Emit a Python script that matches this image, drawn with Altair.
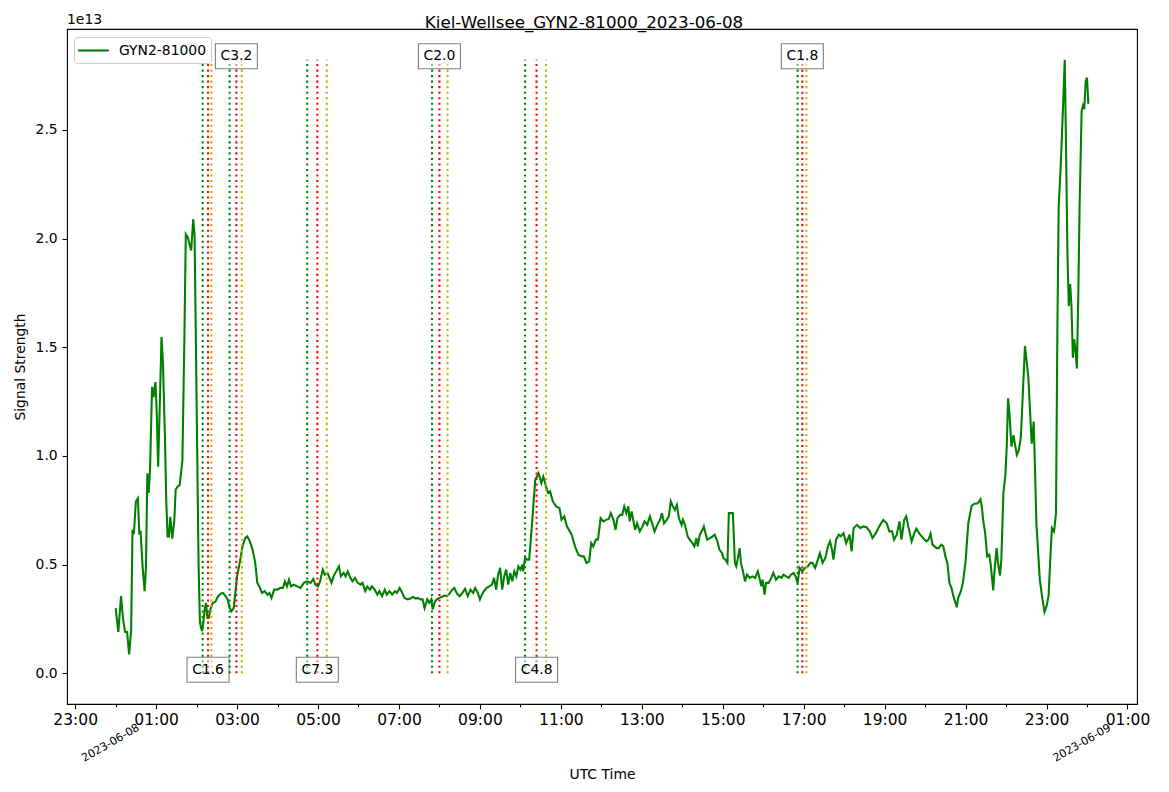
import altair as alt
import pandas as pd

# ---------------- data (minutes after 2023-06-08 00:00 UTC, signal in units of 1e13) ----------------
night_min = [0, 4, 8, 11, 14, 17, 20, 23, 25, 27, 30, 33, 35, 37, 40, 43, 45, 47, 49, 51,
             54, 56, 59, 61, 63, 65, 68, 70, 73, 75, 77, 79, 81, 84, 87, 89, 92, 95, 99, 102,
             104, 107, 109, 112, 115, 117, 120, 123, 125, 128, 130, 132, 134, 136, 138, 141, 144, 148, 152, 156,
             159, 163, 166, 169, 172, 175, 178, 180, 184, 188, 192, 195, 199, 203, 207, 210, 213, 217, 221, 225,
             228, 231, 235, 240, 244, 248, 251, 254, 257, 260, 264, 269, 274, 279]
night_val = [0.30, 0.19, 0.355, 0.25, 0.19, 0.19, 0.087, 0.20, 0.66, 0.64,
             0.79, 0.805, 0.645, 0.65, 0.49, 0.378, 0.49, 0.92, 0.83, 0.935,
             1.318, 1.27, 1.34, 1.195, 0.95, 1.18, 1.547, 1.44, 1.10, 0.80,
             0.63, 0.63, 0.72, 0.62, 0.705, 0.845, 0.86, 0.867, 0.98, 1.56,
             2.02, 2.005, 1.98, 1.945, 2.09, 2.02, 1.257, 0.49, 0.233, 0.194,
             0.233, 0.294, 0.324, 0.255, 0.255, 0.30, 0.324, 0.33, 0.355, 0.367,
             0.37, 0.355, 0.34, 0.30, 0.286, 0.30, 0.385, 0.446, 0.508, 0.584,
             0.622, 0.63, 0.607, 0.569, 0.508, 0.416, 0.40, 0.37, 0.378, 0.362,
             0.37, 0.347, 0.385, 0.385, 0.393, 0.393, 0.423, 0.40, 0.431, 0.40,
             0.408, 0.40, 0.393, 0.416]

morning_min = [284, 289, 293, 296, 300, 303, 307, 310, 314, 317, 320, 323, 327, 331, 334, 338, 341, 344, 348, 351,
               355, 359, 363, 366, 370, 373, 377, 380, 384, 388, 391, 395, 399, 402, 406, 410, 414, 417, 421, 425,
               428, 433, 437, 441, 445, 448, 452, 455, 458, 462, 465, 468, 470, 473, 476, 480, 484, 487, 491, 495,
               499, 502, 506, 510, 514, 518, 522, 526, 530, 533, 537, 540, 543, 546, 550, 554, 558, 561, 564, 567,
               570, 573, 576, 579, 582, 585, 588, 591, 594, 597, 600, 603, 604, 607, 610, 613]
morning_val = [0.423, 0.416, 0.434, 0.408, 0.40, 0.423, 0.477, 0.454, 0.462, 0.439,
               0.416, 0.446, 0.469, 0.492, 0.446, 0.462, 0.446, 0.469, 0.439, 0.423,
               0.439, 0.416, 0.408, 0.416, 0.378, 0.40, 0.385, 0.40, 0.385, 0.362,
               0.378, 0.355, 0.385, 0.362, 0.378, 0.362, 0.378, 0.37, 0.393, 0.37,
               0.347, 0.34, 0.344, 0.352, 0.344, 0.347, 0.34, 0.34, 0.30, 0.34,
               0.324, 0.34, 0.294, 0.327, 0.34, 0.347, 0.352, 0.358, 0.355, 0.367,
               0.385, 0.393, 0.367, 0.355, 0.37, 0.389, 0.355, 0.385, 0.37, 0.393,
               0.37, 0.34, 0.362, 0.378, 0.393, 0.40, 0.408, 0.439, 0.385, 0.454,
               0.485, 0.385, 0.446, 0.477, 0.408, 0.462, 0.423, 0.469, 0.446, 0.492,
               0.477, 0.50, 0.469, 0.53, 0.523, 0.523]

day_min = [617, 622, 627, 631, 634, 638, 641, 644, 648, 653, 658, 661, 665, 669, 672, 676, 681, 686, 691, 694,
           698, 702, 705, 708, 712, 715, 719, 723, 727, 731, 734, 738, 741, 744, 748, 751, 754, 757, 760, 762,
           765, 770, 773, 777, 781, 784, 788, 792, 796, 799, 803, 807, 810, 813, 817, 820, 823, 826, 829, 832,
           835, 839, 841, 844, 848, 851, 855, 858, 861, 863, 866, 870, 872, 875, 877, 881, 885, 888, 892, 895,
           899, 901, 904, 907, 909, 913, 915, 918, 920, 922, 925, 927, 930, 933, 936, 940, 944, 948, 952, 955,
           957, 959, 962, 964, 968, 972, 975, 979, 983, 987, 990, 994, 998, 1001, 1005, 1008, 1011, 1014, 1018, 1022,
           1026, 1030, 1033, 1037, 1041, 1044, 1048, 1052, 1056, 1059, 1062, 1064, 1068, 1072, 1075, 1079, 1083]
day_val = [0.676, 0.89, 0.92, 0.875, 0.905, 0.86, 0.83, 0.837, 0.791, 0.768,
           0.76, 0.706, 0.722, 0.676, 0.66, 0.638, 0.584, 0.546, 0.538, 0.538,
           0.508, 0.515, 0.599, 0.584, 0.615, 0.615, 0.714, 0.699, 0.706, 0.71,
           0.737, 0.706, 0.66, 0.714, 0.729, 0.729, 0.768, 0.737, 0.768, 0.699,
           0.745, 0.66, 0.69, 0.653, 0.676, 0.699, 0.683, 0.722, 0.683, 0.653,
           0.683, 0.706, 0.737, 0.69, 0.706, 0.722, 0.791, 0.768, 0.752, 0.775,
           0.714, 0.683, 0.706, 0.683, 0.63, 0.615, 0.599, 0.584, 0.622, 0.584,
           0.638, 0.66, 0.676, 0.638, 0.615, 0.622, 0.63, 0.638, 0.607, 0.569,
           0.553, 0.53, 0.523, 0.508, 0.737, 0.737, 0.737, 0.508, 0.492, 0.523,
           0.576, 0.508, 0.469, 0.423, 0.454, 0.439, 0.446, 0.439, 0.469, 0.431,
           0.40, 0.431, 0.362, 0.416, 0.416, 0.439, 0.462, 0.431, 0.446, 0.439,
           0.454, 0.446, 0.439, 0.454, 0.462, 0.446, 0.416, 0.485, 0.469, 0.485,
           0.492, 0.508, 0.508, 0.485, 0.523, 0.553, 0.508, 0.53, 0.584, 0.607,
           0.569, 0.523, 0.615, 0.638, 0.63, 0.645, 0.599]

evening_min = [1088, 1091, 1094, 1099, 1104, 1108, 1113, 1118, 1122, 1127, 1132, 1138, 1143, 1147, 1151, 1154, 1158, 1162, 1165, 1169,
               1172, 1175, 1180, 1184, 1187, 1191, 1195, 1199, 1202, 1205, 1208, 1211, 1214, 1217, 1220, 1224, 1227, 1230, 1233, 1236,
               1239, 1242, 1245, 1247, 1249, 1253, 1256, 1260, 1264, 1269, 1273, 1276, 1279, 1282, 1284, 1286, 1289, 1292, 1295, 1297,
               1301, 1303, 1306, 1308, 1311, 1313, 1316, 1319, 1321, 1323, 1325, 1328, 1331, 1333, 1336, 1339, 1342, 1344, 1348, 1353,
               1358, 1361, 1365, 1370, 1374, 1377, 1380, 1383, 1386, 1388, 1391, 1392, 1394, 1396, 1398, 1401, 1404, 1407, 1409, 1411,
               1413, 1415, 1417, 1419, 1421, 1423, 1425, 1427, 1429, 1432, 1434, 1436, 1438, 1440, 1442]
evening_val = [0.638, 0.561, 0.668, 0.683, 0.668, 0.676, 0.672, 0.653, 0.622, 0.645,
               0.676, 0.706, 0.69, 0.653, 0.653, 0.615, 0.638, 0.699, 0.615, 0.706,
               0.722, 0.676, 0.607, 0.645, 0.665, 0.645, 0.63, 0.615, 0.607, 0.615,
               0.642, 0.592, 0.584, 0.576, 0.576, 0.592, 0.584, 0.538, 0.508, 0.416,
               0.393, 0.355, 0.324, 0.304, 0.347, 0.378, 0.416, 0.515, 0.69, 0.771,
               0.78, 0.78, 0.786, 0.801, 0.768, 0.706, 0.645, 0.538, 0.546, 0.508,
               0.382, 0.477, 0.576, 0.508, 0.45, 0.523, 0.829, 0.913, 1.043, 1.265,
               1.195, 1.043, 1.096, 1.058, 1.005, 1.028, 1.089, 1.227, 1.506, 1.363,
               1.056, 1.158, 0.688, 0.431, 0.34, 0.283, 0.309, 0.355, 0.553, 0.668,
               0.653, 0.676, 0.737, 1.555, 2.147, 2.333, 2.569, 2.823, 2.40, 1.927,
               1.689, 1.791, 1.689, 1.452, 1.537, 1.486, 1.402, 1.724, 2.147, 2.587,
               2.612, 2.595, 2.723, 2.74, 2.62]

# flares (UTC)
flare_class = ["C1.6", "C3.2", "C7.3", "C2.0", "C4.8", "C1.8"]
flare_start = ["02:09", "02:49", "04:44", "07:49", "10:07", "16:51"]
flare_peak = ["02:17", "02:59", "04:59", "08:00", "10:24", "16:58"]
flare_end = ["02:22", "03:07", "05:13", "08:12", "10:38", "17:04"]
label_side = ["bottom", "top", "bottom", "top", "bottom", "top"]

series_name = "GYN2-81000"
title_text = "Kiel-Wellsee_GYN2-81000_2023-06-08"
date_labels = ["2023-06-08", "2023-06-09"]
date_hours = [0, 24]

# ---------------- build tables ----------------
minutes = night_min + morning_min + day_min + evening_min
values = night_val + morning_val + day_val + evening_val
assert len(minutes) == len(values)

df = pd.DataFrame({"t": [m / 60 for m in minutes], "v": values, "series": series_name})


def hours(s):
    h, m = s.split(":")
    return int(h) + int(m) / 60


t_lo, t_hi = min(df.t), max(df.t)
x_pad = 0.05 * (t_hi - t_lo)
vmax = max(values)
y_lo, y_hi = 0.0, vmax
y_pad = 0.05 * (y_hi - y_lo)

rule_rows = []
for s, p, e in zip(flare_start, flare_peak, flare_end):
    rule_rows.append({"t": hours(s), "col": "#008000"})
    rule_rows.append({"t": hours(p), "col": "#ff0000"})
    rule_rows.append({"t": hours(e), "col": "#c4b000"})
rules_df = pd.DataFrame(rule_rows)

lab_df = pd.DataFrame({
    "t": [hours(p) for p in flare_peak],
    "yl": [vmax if side == "top" else 0.0 for side in label_side],
    "label": flare_class,
})

dates_df = pd.DataFrame({"t": date_hours, "d": date_labels})

FONT = "DejaVu Sans"
W, H = 1070, 675

x_scale = alt.Scale(domain=[t_lo - x_pad, t_hi + x_pad], nice=False, zero=False)
y_scale = alt.Scale(domain=[y_lo - y_pad, y_hi + y_pad], nice=False, zero=False)

x_axis = alt.Axis(
    values=list(range(-1, 26)),
    labelExpr="datum.value % 2 == 0 ? '' : ((((datum.value + 24) % 24) < 10 ? '0' : '') + ((datum.value + 24) % 24) + ':00')",
    tickSize={"condition": {"test": "datum.value % 2 == 0", "value": 2.8}, "value": 4.9},
    tickColor="black", tickWidth=1.1, domain=False, grid=False,
    labelFontSize=15.5, labelPadding=4, labelColor="black", labelFont=FONT,
    labelOverlap=False, labelFlush=False,
    title="UTC Time", titleFontSize=13.9, titleFontWeight="normal", titleColor="black",
    titleFont=FONT, titlePadding=39,
)
y_axis = alt.Axis(
    values=[0, 0.5, 1.0, 1.5, 2.0, 2.5], format=".1f",
    tickColor="black", tickWidth=1.1, tickSize=4.9, domain=False, grid=False,
    labelFontSize=13.9, labelPadding=4.9, labelColor="black", labelFont=FONT,
    labelOverlap=False, labelFlush=False,
    title="Signal Strength", titleFontSize=13.9, titleFontWeight="normal", titleColor="black",
    titleFont=FONT, titlePadding=8,
)

legend = alt.Legend(
    title=None, orient="none", legendX=7, legendY=8,
    symbolType="M-2.2,0H2.2", symbolSize=196, symbolStrokeWidth=2.08, symbolOffset=6,
    labelFontSize=13.9, labelFont=FONT, labelColor="black", labelOffset=17,
    padding=5, cornerRadius=3, strokeColor="#cccccc", fillColor="rgba(255,255,255,0.8)",
)

line = alt.Chart(df).mark_line(strokeWidth=2.08).encode(
    x=alt.X("t:Q", scale=x_scale, axis=x_axis),
    y=alt.Y("v:Q", scale=y_scale, axis=y_axis),
    color=alt.Color("series:N", scale=alt.Scale(range=["#008000"]), legend=legend),
)

rules = alt.Chart(rules_df).mark_rule(strokeWidth=2.08, strokeDash=[2.08, 3.44]).encode(
    x="t:Q",
    y=alt.datum(0.0),
    y2=alt.datum(vmax),
    stroke=alt.Stroke("col:N", scale=None),
)

boxes = alt.Chart(lab_df).mark_rect(
    fill="white", fillOpacity=0.5, stroke="black", strokeOpacity=0.5, strokeWidth=1.1,
    xOffset=-21, x2Offset=21, yOffset=-16, y2Offset=9,
).encode(x="t:Q", x2=alt.X2("t"), y="yl:Q", y2=alt.Y2("yl"))

box_text = alt.Chart(lab_df).mark_text(
    font=FONT, fontSize=13.9, color="black", baseline="middle", align="center", yOffset=-3.5,
).encode(x="t:Q", y="yl:Q", text="label:N")

date_text = alt.Chart(dates_df).mark_text(
    font=FONT, fontSize=11.1, color="black", angle=330, align="right", baseline="top", xOffset=20,
).encode(x="t:Q", y=alt.value(H + 18), text="d:N")

title = alt.Chart(pd.DataFrame({"s": [title_text]})).mark_text(
    font=FONT, fontSize=16.7, color="black", align="center", baseline="alphabetic",
).encode(x=alt.value(517), y=alt.value(-1), text="s:N")

offset_text = alt.Chart(pd.DataFrame({"s": ["1e13"]})).mark_text(
    font=FONT, fontSize=13.9, color="black", align="left", baseline="middle",
).encode(x=alt.value(0), y=alt.value(-9), text="s:N")

chart = alt.layer(line, rules, boxes, box_text, date_text, title, offset_text).properties(
    width=W, height=H,
    padding={"left": 59, "top": 21, "right": 16, "bottom": 80},
    autosize=alt.AutoSizeParams(type="none"),
).configure(font=FONT).configure_view(stroke="black", strokeWidth=1.1)

chart.save("out.html", embed_options={"renderer": "svg", "actions": False})
